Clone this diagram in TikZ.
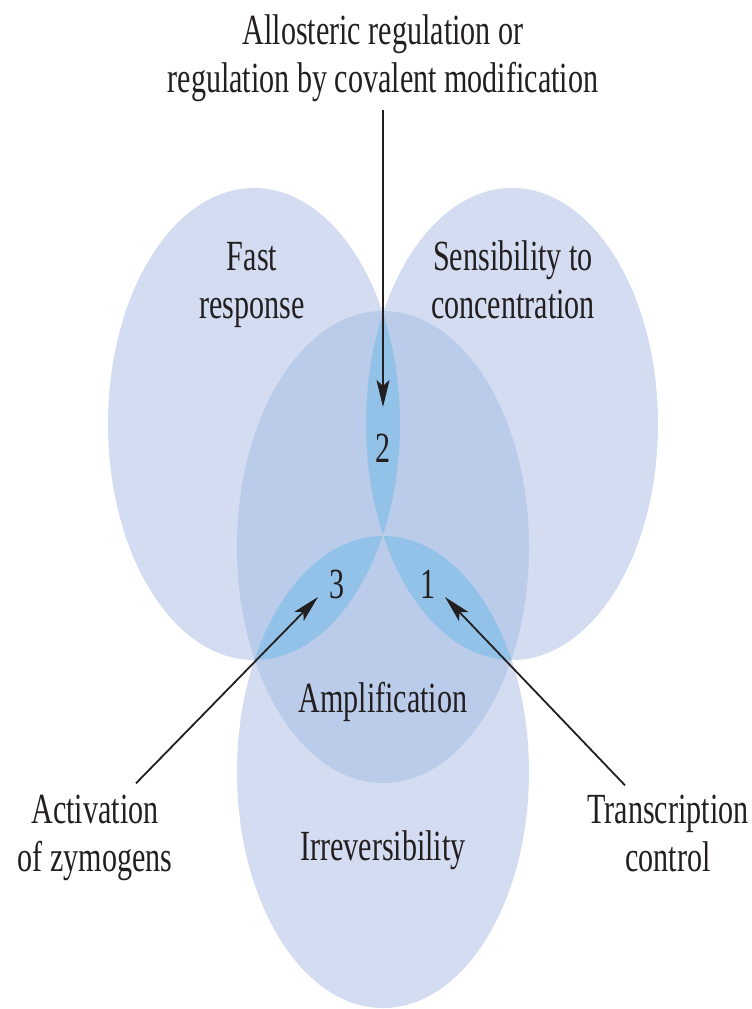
\documentclass[tikz,border=0pt]{standalone}
\usepackage{fontspec}
\setmainfont[FakeStretch=0.70]{Liberation Serif}
\usetikzlibrary{arrows.meta}
\definecolor{petal}{RGB}{211,220,240}
\definecolor{core}{RGB}{186,204,233}
\definecolor{lensblue}{RGB}{146,194,232}
\definecolor{ink}{RGB}{35,31,32}
\begin{document}
\begin{tikzpicture}[x=1bp,y=-1bp,
  lbl/.style={inner sep=0pt, align=center, text=ink,
    font=\fontsize{43bp}{48bp}\selectfont},
  num/.style={inner sep=0pt, text=ink, font=\fontsize{43bp}{48bp}\selectfont},
  arr/.style={draw=ink, line width=1.8bp,
    -{Stealth[length=27bp,width=13bp,inset=6bp]}}]
\useasboundingbox (0,0) rectangle (752,1009);

% the four property ellipses
\fill[petal] (254,424) ellipse [x radius=146, y radius=236];
\fill[petal] (512,424) ellipse [x radius=146, y radius=236];
\fill[petal] (383,772) ellipse [x radius=146, y radius=236];
\fill[core]  (383,547) ellipse [x radius=146, y radius=236];

% pairwise overlaps inside the central ellipse
\begin{scope}
  \clip (383,547) ellipse [x radius=146, y radius=236];
  \begin{scope}
    \clip (254,424) ellipse [x radius=146, y radius=236];
    \fill[lensblue] (512,424) ellipse [x radius=146, y radius=236];
    \fill[lensblue] (383,772) ellipse [x radius=146, y radius=236];
  \end{scope}
  \begin{scope}
    \clip (512,424) ellipse [x radius=146, y radius=236];
    \fill[lensblue] (383,772) ellipse [x radius=146, y radius=236];
  \end{scope}
\end{scope}

% labels (base anchor of a two-line label sits on its last line)
\node[lbl, anchor=base] (allo) at (383,92)
  {Allosteric regulation or\\regulation by covalent modification};
\node[lbl, anchor=base] (fast) at (252,318) {Fast\\response};
\node[lbl, anchor=base] (sens) at (513,318) {Sensibility to\\concentration};
\node[num, anchor=base] (n2) at (383,462) {2};
\node[num, anchor=base] (n3) at (337,598) {3};
\node[num, anchor=base] (n1) at (428,598) {1};
\node[lbl, anchor=base] (amp) at (383,712) {Amplification};
\node[lbl, anchor=base] (irr) at (383,860) {Irreversibility};
\node[lbl, anchor=base] (act) at (95,871) {Activation\\of zymogens};
\node[lbl, anchor=base] (trans) at (668,871) {Transcription\\control};

% arrow tips
\coordinate (t2) at (383,407);
\coordinate (t3) at (318,597);
\coordinate (t1) at (445,597);

% connectors
\draw[arr] ([yshift=-9bp]allo.south) -- (t2);
\draw[arr] ([xshift=41bp,yshift=11bp]act.north) -- (t3);
\draw[arr] ([xshift=-43bp,yshift=9bp]trans.north) -- (t1);
\end{tikzpicture}
\end{document}
